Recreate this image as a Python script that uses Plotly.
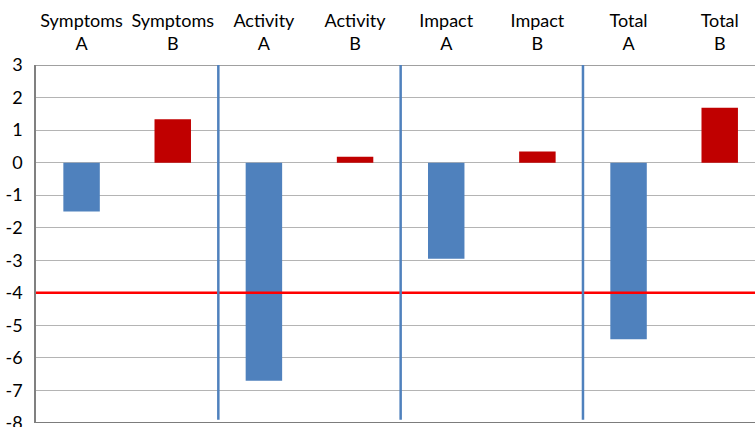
import plotly.graph_objects as go

# Category labels (two lines each) and change scores per measure
categories = ["Symptoms<br>A", "Symptoms<br>B", "Activity<br>A", "Activity<br>B",
              "Impact<br>A", "Impact<br>B", "Total<br>A", "Total<br>B"]
values = [-1.5, 1.33, -6.7, 0.18, -2.95, 0.34, -5.43, 1.69]
bar_colors = ["#4F81BD", "#C00000"] * 4

# Threshold reference line and group separators (category index positions)
threshold = -4
separators = [1.5, 3.5, 5.5]

y_ticks = list(range(-8, 4))
y_tick_text = [str(v) for v in y_ticks]

font_family = "Lato, 'Open Sans', Arial, sans-serif"

fig = go.Figure()

fig.add_trace(go.Bar(
    x=list(range(len(categories))),
    y=values,
    marker=dict(color=bar_colors, line=dict(width=0)),
    width=0.4,
    showlegend=False,
    hoverinfo="skip",
))

# Vertical separators between measure groups
for s in separators:
    fig.add_shape(type="line", xref="x", yref="y",
                  x0=s, x1=s, y0=-7.9, y1=3,
                  line=dict(color="#4F81BD", width=2.5), layer="above")

# Horizontal threshold line across the full width
fig.add_trace(go.Scatter(
    x=[-0.5, 7.5], y=[threshold, threshold],
    mode="lines", line=dict(color="#FF0000", width=2.5),
    showlegend=False, hoverinfo="skip", cliponaxis=True,
))

# Top border line of the plot area
fig.add_shape(type="line", xref="paper", yref="y",
              x0=0, x1=1, y0=3, y1=3,
              line=dict(color="#808080", width=1.5), layer="below")

fig.update_layout(
    width=755, height=427,
    margin=dict(l=36, r=0, t=65, b=4, autoexpand=False),
    paper_bgcolor="white", plot_bgcolor="white",
    font=dict(family=font_family, size=18, color="black"),
    bargap=0.6,
    xaxis=dict(
        side="top",
        tickmode="array",
        tickvals=list(range(len(categories))),
        ticktext=categories,
        range=[-0.5, 7.387],
        showgrid=False, zeroline=False,
        showline=False, ticks="",
        tickfont=dict(size=18),
        ticklabelstandoff=10,
        automargin=False,
    ),
    yaxis=dict(
        range=[-8, 3],
        tickmode="array", tickvals=y_ticks, ticktext=y_tick_text,
        showgrid=True, gridcolor="#B4B4B4", gridwidth=1,
        zeroline=False,
        showline=True, linecolor="#808080", linewidth=1.5,
        ticks="", tickfont=dict(size=18),
        ticklabelstandoff=8,
        ticklabeloverflow="allow",
        automargin=False,
    ),
)

# Bottom axis line
fig.add_shape(type="line", xref="paper", yref="y",
              x0=0, x1=1, y0=-8, y1=-8,
              line=dict(color="#505050", width=1.5), layer="above")

fig.write_html("out.html")
